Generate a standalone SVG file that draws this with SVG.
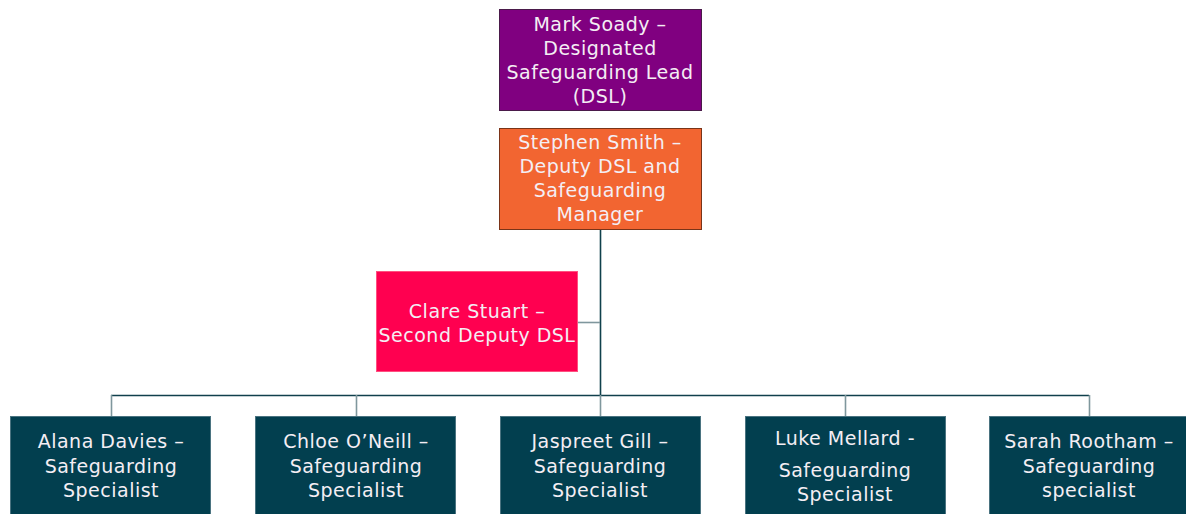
<svg xmlns="http://www.w3.org/2000/svg" width="1186" height="514" viewBox="0 0 1186 514">
<style>
text{font-family:"DejaVu Sans","Open Sans",sans-serif;font-size:19px;letter-spacing:0.5px;fill:#f4eef4;text-anchor:middle;dominant-baseline:central}
.dark{fill:#023f4f;stroke:#4a7380;stroke-width:1}
.main{stroke:#10404c;stroke-width:1.6;fill:none}
.drop{stroke:#7f979d;stroke-width:1.6;fill:none}
</style>
<rect width="1186" height="514" fill="#ffffff"/>
<g id="connectors">
<path class="main" d="M600.5 230V395"/>
<path class="main" d="M111 395.5H1089"/>
<path class="drop" d="M578 322.5H600"/>
<path class="drop" d="M111.5 395V416M356.5 395V416M600.5 395V416M845.5 395V416M1089.5 395V416"/>
</g>
<g id="mark">
<rect x="499.5" y="9.5" width="202" height="101" fill="#800080" stroke="#4a1a4a"/>
<text x="600" y="24">Mark Soady –</text>
<text x="600" y="48">Designated</text>
<text x="600" y="72">Safeguarding Lead</text>
<text x="600" y="96">(DSL)</text>
</g>
<g id="stephen">
<rect x="499.5" y="128.5" width="202" height="101" fill="#f26531" stroke="#7a3418"/>
<text x="600" y="142">Stephen Smith –</text>
<text x="600" y="166">Deputy DSL and</text>
<text x="600" y="190">Safeguarding</text>
<text x="600" y="214">Manager</text>
</g>
<g id="clare">
<rect x="376.5" y="271.5" width="201" height="100" fill="#ff0050" stroke="#ff5080"/>
<text x="477" y="311">Clare Stuart –</text>
<text x="477" y="335">Second Deputy DSL</text>
</g>
<g id="alana">
<rect class="dark" x="10.5" y="416.5" width="200" height="100"/>
<text x="111" y="441">Alana Davies –</text>
<text x="111" y="466">Safeguarding</text>
<text x="111" y="490">Specialist</text>
</g>
<g id="chloe">
<rect class="dark" x="255.5" y="416.5" width="200" height="100"/>
<text x="356" y="441">Chloe O’Neill –</text>
<text x="356" y="466">Safeguarding</text>
<text x="356" y="490">Specialist</text>
</g>
<g id="jaspreet">
<rect class="dark" x="500.5" y="416.5" width="200" height="100"/>
<text x="600" y="441">Jaspreet Gill –</text>
<text x="600" y="466">Safeguarding</text>
<text x="600" y="490">Specialist</text>
</g>
<g id="luke">
<rect class="dark" x="745.5" y="416.5" width="200" height="100"/>
<text x="845" y="438">Luke Mellard -</text>
<text x="845" y="470">Safeguarding</text>
<text x="845" y="494">Specialist</text>
</g>
<g id="sarah">
<rect class="dark" x="989.5" y="416.5" width="200" height="100"/>
<text x="1089" y="441">Sarah Rootham –</text>
<text x="1089" y="466">Safeguarding</text>
<text x="1089" y="490">specialist</text>
</g>
</svg>
